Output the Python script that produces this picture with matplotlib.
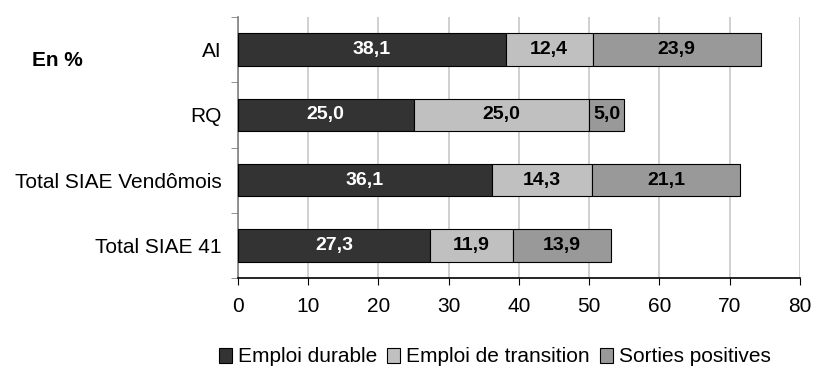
import matplotlib.pyplot as plt
import numpy as np

plt.rcParams["font.family"] = ["Liberation Sans", "DejaVu Sans"]

categories = ["AI", "RQ", "Total SIAE Vendômois", "Total SIAE 41"]
series_names = ["Emploi durable", "Emploi de transition", "Sorties positives"]
emploi_durable = [38.1, 25.0, 36.1, 27.3]
emploi_transition = [12.4, 25.0, 14.3, 11.9]
sorties_positives = [23.9, 5.0, 21.1, 13.9]
x_ticks = [0, 10, 20, 30, 40, 50, 60, 70, 80]

colors = ["#333333", "#c0c0c0", "#999999"]
text_colors = ["white", "black", "black"]
fs = 15
fs_val = 14

fig = plt.figure(figsize=(8.14, 3.79), dpi=100)
ax = fig.add_axes([238 / 814, 1 - 278 / 379, (800 - 238) / 814, (278 - 17) / 379])

y = np.arange(len(categories))
left = np.zeros(len(categories))
for vals, name, col, tcol in zip(
    [emploi_durable, emploi_transition, sorties_positives], series_names, colors, text_colors
):
    vals = np.array(vals)
    bars = ax.barh(y, vals, left=left, height=0.5, color=col, edgecolor="black",
                   linewidth=0.8, label=name, zorder=3)
    for b, v in zip(bars, vals):
        ax.text(b.get_x() + b.get_width() / 2, b.get_y() + b.get_height() / 2,
                f"{v:.1f}".replace(".", ","), ha="center", va="center",
                color=tcol, fontsize=fs_val, fontweight="bold", zorder=4)
    left += vals

ax.set_xlim(0, 80)
ax.set_ylim(len(categories) - 0.5, -0.5)
ax.set_xticks(x_ticks)
ax.set_xticklabels([str(t) for t in x_ticks], fontsize=fs)
ax.set_yticks(y)
ax.set_yticklabels(categories, fontsize=fs)
ax.set_yticks(np.arange(-0.5, len(categories)), minor=True)
ax.tick_params(axis="y", which="major", length=0, pad=12)
ax.tick_params(axis="y", which="minor", length=5, color="#808080", direction="out")
ax.tick_params(axis="x", length=5, direction="out", color="black", pad=9)

ax.grid(axis="x", color="#c8c8c8", linewidth=1.2, zorder=0)
for s in ["top", "right"]:
    ax.spines[s].set_visible(False)
ax.spines["left"].set_color("#808080")
ax.spines["left"].set_linewidth(1.2)
ax.spines["bottom"].set_color("black")
ax.spines["bottom"].set_linewidth(1.2)

fig.text(57 / 814, 1 - 60 / 379, "En %", fontsize=fs, fontweight="bold",
         ha="center", va="center")

fig.legend(loc="center", bbox_to_anchor=(495 / 814, 1 - 357 / 379), ncol=3,
           frameon=False, fontsize=fs, handlelength=0.6, handleheight=0.7,
           handletextpad=0.3, columnspacing=0.5)

fig.savefig("out.png", dpi=100)
